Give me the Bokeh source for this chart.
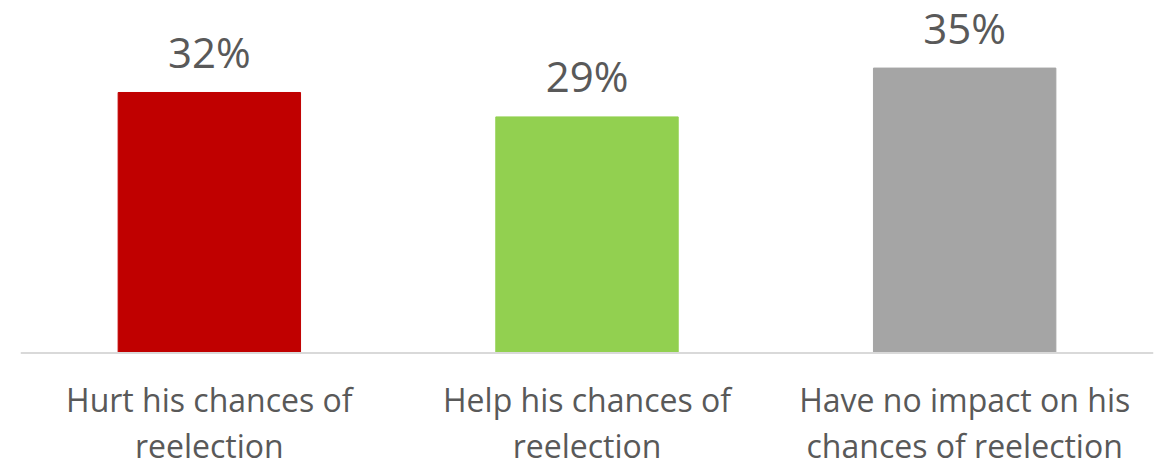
from bokeh.plotting import figure
from bokeh.models import ColumnDataSource, Range1d, FactorRange, Span
from bokeh.core.properties import value
from bokeh.embed import file_html
from bokeh.resources import INLINE

categories = ["Hurt his chances of\nreelection",
              "Help his chances of\nreelection",
              "Have no impact on his\nchances of reelection"]
values = [32, 29, 35]
labels = ["32%", "29%", "35%"]
colors = ["#C00000", "#92D050", "#A5A5A5"]

src = ColumnDataSource(dict(cat=categories, val=values, lab=labels, col=colors,
                            zero=[0] * len(values)))

p = figure(x_range=FactorRange(*categories), y_range=Range1d(-13.57, 43.3),
           width=1161, height=463, output_backend="svg", toolbar_location=None,
           min_border_left=20, min_border_right=8, min_border_top=0, min_border_bottom=0)
p.outline_line_color = None
p.grid.grid_line_color = None
p.xaxis.visible = False
p.yaxis.visible = False
p.x_range.range_padding = 0
p.vbar(x="cat", top="val", width=0.483, color="col", source=src)
p.add_layout(Span(location=0, dimension="width", line_color="#D9D9D9", line_width=2))
p.text(x="cat", y="val", text="lab", source=src, text_align="center",
       text_baseline="alphabetic", y_offset=-41, text_color="#595959",
       text_font=value("Open Sans"), text_font_size="42px")
p.text(x="cat", y="zero", text="cat", source=src, text_align="center",
       text_baseline="top", y_offset=25, text_color="#595959",
       text_font=value("Open Sans"), text_font_size="32px", text_line_height=1.06)

open("out.html", "w").write(file_html(p, INLINE))
